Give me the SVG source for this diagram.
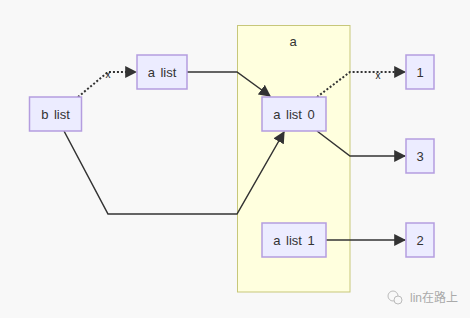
<svg xmlns="http://www.w3.org/2000/svg" width="470" height="318" viewBox="0 0 470 318">
<style>
.bg{fill:#f8f8f8}
.cluster{fill:#ffffde;stroke:#c7c77a;stroke-width:1}
.node rect{fill:#ececff;stroke:#b49ddf;stroke-width:1.5}
text{font-family:"Liberation Sans","DejaVu Sans",sans-serif;font-size:13px;fill:#333;text-anchor:middle;dominant-baseline:central;word-spacing:2px}
.edge{fill:none;stroke:#333;stroke-width:1.5}
.dot{stroke-dasharray:2,2;stroke-width:2}
.lbl{font-size:10px;fill:#222}
.wm{font-size:12px;fill:#aaa;text-anchor:start;font-family:"Liberation Sans","Noto Sans CJK SC",sans-serif;word-spacing:0}
</style>
<defs>
<marker id="arr" markerUnits="userSpaceOnUse" markerWidth="12" markerHeight="12" viewBox="0 0 10 10" refX="9" refY="5" orient="auto">
<path d="M0,0 L10,5 L0,10 z" fill="#333"/>
</marker>
</defs>
<rect class="bg" x="0" y="0" width="470" height="318"/>
<g id="cluster-a">
<rect class="cluster" x="237.5" y="25.5" width="112.5" height="266.5"/>
<text x="293" y="41">a</text>
</g>
<g id="edges">
<path class="edge dot" d="M78,97 L108,72 L136,72" marker-end="url(#arr)"/>
<text class="lbl" x="108" y="74">x</text>
<path class="edge" d="M187,72 L237,72 L270,96" marker-end="url(#arr)"/>
<path class="edge dot" d="M317,97 L350,72 L405,72" marker-end="url(#arr)"/>
<text class="lbl" x="378" y="75">x</text>
<path class="edge" d="M317,131 L350,156 L405,156" marker-end="url(#arr)"/>
<path class="edge" d="M64,131 L108,214 L237,214 L284,132" marker-end="url(#arr)"/>
<path class="edge" d="M326,240 L405,240" marker-end="url(#arr)"/>
</g>
<g id="node-blist" class="node"><rect x="29.5" y="97" width="52" height="34"/><text x="55.5" y="114">b list</text></g>
<g id="node-alist" class="node"><rect x="137" y="55" width="50" height="34"/><text x="162" y="72">a list</text></g>
<g id="node-alist0" class="node"><rect x="262" y="97" width="64" height="34"/><text x="294" y="114">a list 0</text></g>
<g id="node-alist1" class="node"><rect x="262" y="223" width="64" height="34"/><text x="294" y="240">a list 1</text></g>
<g id="node-1" class="node"><rect x="406" y="55" width="28" height="34"/><text x="420" y="72">1</text></g>
<g id="node-3" class="node"><rect x="406" y="139" width="28" height="34"/><text x="420" y="156">3</text></g>
<g id="node-2" class="node"><rect x="406" y="223" width="28" height="34"/><text x="420" y="240">2</text></g>
<g id="watermark">
<circle cx="393" cy="296" r="5" fill="none" stroke="#bbb" stroke-width="1"/>
<circle cx="398" cy="300" r="4" fill="#f8f8f8" stroke="#bbb" stroke-width="1"/>
<text class="wm" x="410" y="298">lin在路上</text>
</g>
</svg>
